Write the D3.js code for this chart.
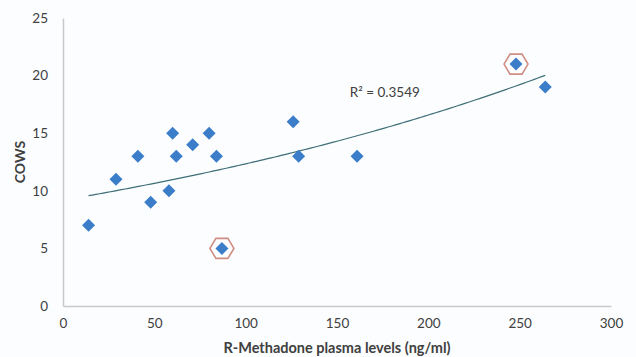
<!DOCTYPE html>
<html>
<head>
<meta charset="utf-8">
<script src="https://cdn.jsdelivr.net/npm/d3@7"></script>
<style>
  body { margin: 0; background: #fcfdfe; }
  svg text { font-family: Lato, "Open Sans", sans-serif; fill: #404040; }
</style>
</head>
<body>
<div id="chart"></div>
<script>
// Data
const plasmaLevels = [14, 29, 41, 48, 58, 60, 62, 71, 80, 84, 87, 126, 129, 161, 248, 264];
const cowsScores   = [7, 11, 13, 9, 10, 15, 13, 14, 15, 13, 5, 16, 13, 13, 21, 19];
const outlierIndex = [10, 14];
const xTicks = [0, 50, 100, 150, 200, 250, 300];
const yTicks = [0, 5, 10, 15, 20, 25];
const r2Label = 'R\u00B2 = 0.3549';

const width = 636, height = 357;
const margin = { top: 18, right: 25, bottom: 51, left: 63 };
const innerW = width - margin.left - margin.right;
const innerH = height - margin.top - margin.bottom;

const svg = d3.select('#chart').append('svg')
    .attr('width', width)
    .attr('height', height);

const g = svg.append('g')
    .attr('transform', `translate(${margin.left}, ${margin.top})`);

const x = d3.scaleLinear().domain([0, 300]).range([0, innerW]);
const y = d3.scaleLinear().domain([0, 25]).range([innerH, 0]);

const points = plasmaLevels.map((v, i) => ({ x: v, y: cowsScores[i] }));

// Axes: no tick marks, light grey lines
const xAxis = g.append('g')
    .attr('transform', `translate(0, ${innerH})`)
    .call(d3.axisBottom(x).tickValues(xTicks).tickSize(0).tickPadding(12));
const yAxis = g.append('g')
    .call(d3.axisLeft(y).tickValues(yTicks).tickSize(0).tickPadding(15));

[xAxis, yAxis].forEach(a => {
    a.select('.domain').attr('stroke', '#c5cacf').attr('stroke-width', 1.5);
    a.selectAll('text').attr('font-size', 13.5).attr('fill', '#454545')
        .attr('font-family', 'Lato, "Open Sans", sans-serif');
});

// Exponential trendline (least squares on ln y, as a spreadsheet does)
const mx = d3.mean(points, d => d.x);
const my = d3.mean(points, d => Math.log(d.y));
const b = d3.sum(points, d => (d.x - mx) * (Math.log(d.y) - my)) /
          d3.sum(points, d => (d.x - mx) ** 2);
const a = Math.exp(my - b * mx);
const [x0, x1] = d3.extent(plasmaLevels);
const trend = d3.range(x0, x1 + 0.5, 2).map(v => ({ x: v, y: a * Math.exp(b * v) }));

g.append('path')
    .datum(trend)
    .attr('fill', 'none')
    .attr('stroke', '#3e6e78')
    .attr('stroke-width', 1.2)
    .attr('d', d3.line().x(d => x(d.x)).y(d => y(d.y)));

// Hexagon rings round the outliers
const hex = (cx, cy, rx, ry) => {
    const pts = [[-rx, 0], [-rx / 2, -ry], [rx / 2, -ry], [rx, 0], [rx / 2, ry], [-rx / 2, ry]];
    return 'M' + pts.map(p => `${cx + p[0]},${cy + p[1]}`).join('L') + 'Z';
};
g.selectAll('.ring')
    .data(outlierIndex.map(i => points[i]))
    .join('path')
    .attr('class', 'ring')
    .attr('fill', 'none')
    .attr('stroke', '#cf8d84')
    .attr('stroke-width', 1.6)
    .attr('d', d => hex(x(d.x), y(d.y), 12, 10));

// Diamond markers
g.selectAll('.point')
    .data(points)
    .join('path')
    .attr('class', 'point')
    .attr('fill', '#3b7dc8')
    .attr('d', d => {
        const cx = x(d.x), cy = y(d.y), r = 6.5;
        return `M${cx},${cy - r}L${cx + r},${cy}L${cx},${cy + r}L${cx - r},${cy}Z`;
    });

// R squared label
g.append('text')
    .attr('x', x(157))
    .attr('y', y(18.1))
    .attr('font-size', 13.5)
    .text(r2Label);

// Axis titles
svg.append('text')
    .attr('transform', `translate(25, ${margin.top + innerH / 2}) rotate(-90)`)
    .attr('text-anchor', 'middle')
    .attr('font-size', 14)
    .attr('font-weight', 'bold')
    .attr('fill', '#222')
    .text('COWS');

svg.append('text')
    .attr('x', 337)
    .attr('y', 353)
    .attr('text-anchor', 'middle')
    .attr('font-size', 14.5)
    .attr('font-weight', 'bold')
    .attr('fill', '#222')
    .text('R-Methadone plasma levels (ng/ml)');
</script>
</body>
</html>
